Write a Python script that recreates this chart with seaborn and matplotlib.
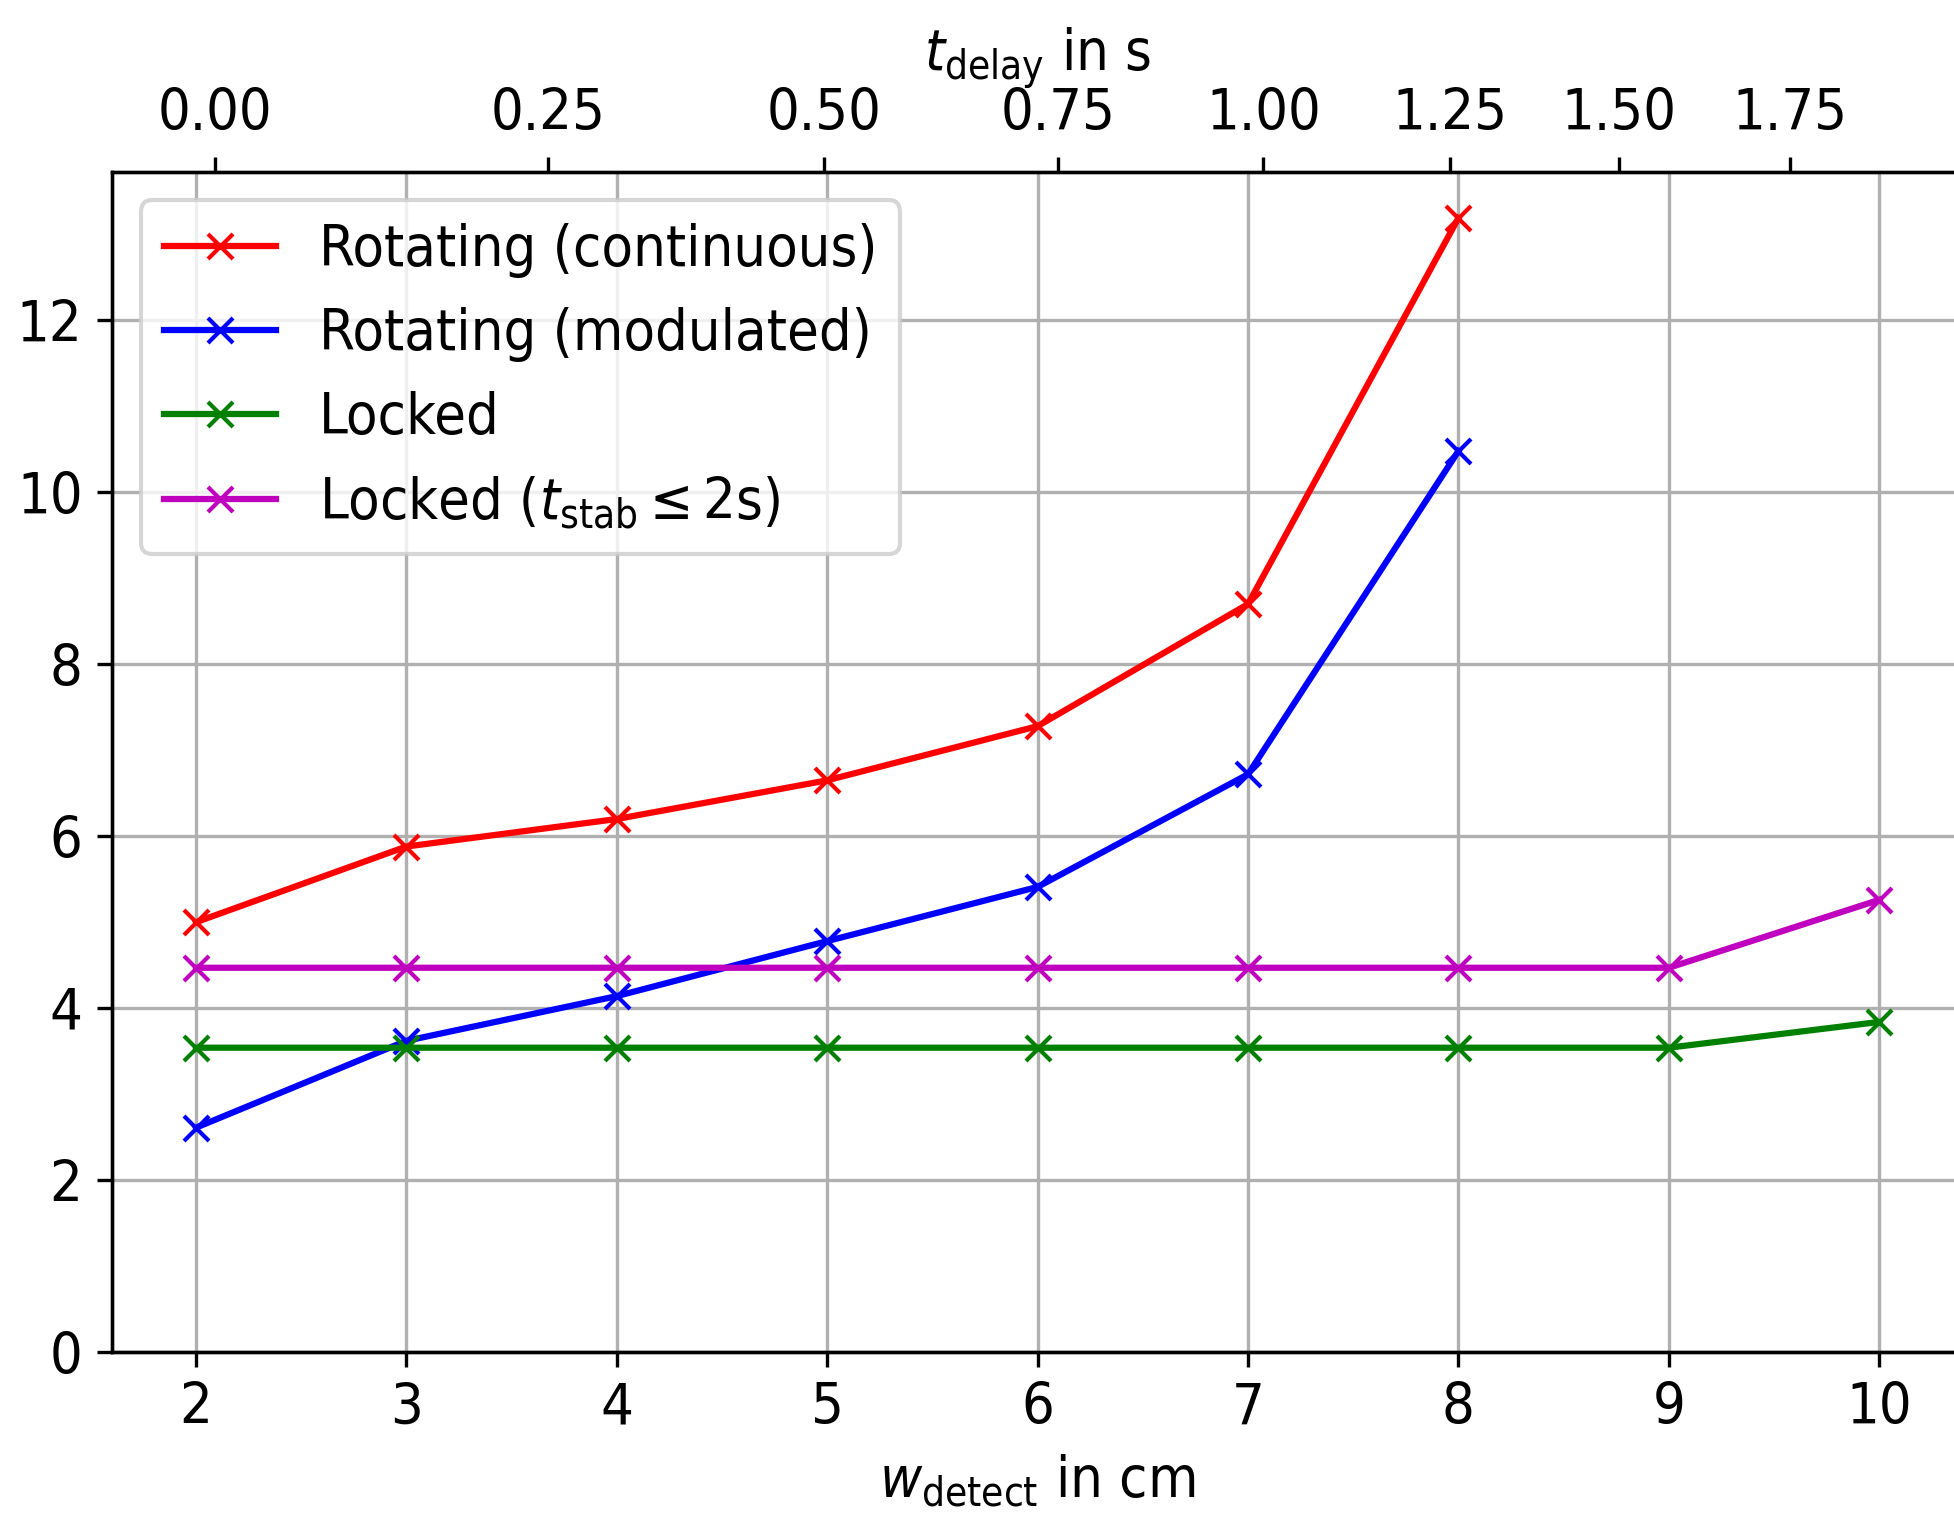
import numpy as np
import pandas as pd
import matplotlib
matplotlib.use("Agg")
import matplotlib.pyplot as plt
import seaborn as sns

# ---- data ----
w_detect = [2, 3, 4, 5, 6, 7, 8, 9, 10]
rot_cont = [5.00, 5.88, 6.20, 6.65, 7.28, 8.70, 13.19]
rot_mod = [2.61, 3.62, 4.14, 4.78, 5.41, 6.72, 10.48]
locked = [3.54, 3.54, 3.54, 3.54, 3.54, 3.54, 3.54, 3.54, 3.84]
locked_stab = [4.47, 4.47, 4.47, 4.47, 4.47, 4.47, 4.47, 4.47, 5.26]

series_names = ["Rotating (continuous)", "Rotating (modulated)", "Locked",
                r"Locked ($t_\mathrm{stab} \leq 2$s)"]
series_colors = ["red", "blue", "g", "m"]

# top-axis (t_delay) tick labels and where they sit on the w_detect axis
t_delay_labels = ["0.00", "0.25", "0.50", "0.75", "1.00", "1.25", "1.50", "1.75"]
t_delay_pos = [2.089, 3.673, 4.985, 6.099, 7.073, 7.958, 8.765, 9.575]

y_ticks = [0, 2, 4, 6, 8, 10, 12]

rows = []
for name, vals in zip(series_names, [rot_cont, rot_mod, locked, locked_stab]):
    for xv, yv in zip(w_detect[:len(vals)], vals):
        rows.append({"w": xv, "val": yv, "series": name})
df = pd.DataFrame(rows)

plt.rcParams["font.size"] = 13.8
plt.rcParams["font.family"] = ["DejaVu Sans"]
plt.rcParams["font.stretch"] = "condensed"
plt.rcParams["mathtext.fontset"] = "custom"
plt.rcParams["mathtext.rm"] = "DejaVu Sans:stretch=condensed"
plt.rcParams["mathtext.it"] = "DejaVu Sans:italic:stretch=condensed"
plt.rcParams["mathtext.bf"] = "DejaVu Sans:bold:stretch=condensed"
plt.rcParams["mathtext.sf"] = "DejaVu Sans:stretch=condensed"

fig = plt.figure(figsize=(1954 / 300, 1519 / 300), dpi=300)
ax = fig.add_axes([0.0572, 0.1099, 0.9476, 0.7771])

for name, col in zip(series_names, series_colors):
    sub = df[df["series"] == name]
    sns.lineplot(data=sub, x="w", y="val", ax=ax, color=col, marker="x",
                 markersize=6, markeredgecolor=col, markeredgewidth=1.0,
                 linewidth=1.5, label=name, legend=False)

ax.set_xlim(1.6, 10.4)
ax.set_ylim(0, 13.73)
ax.set_xticks(w_detect)
ax.set_yticks(y_ticks)
ax.grid(True, color="#b0b0b0", linewidth=0.8)
ax.set_axisbelow(True)
ax.set_xlabel(r"$w_\mathrm{detect}$ in cm")
ax.set_ylabel("")
ax.legend(loc="upper left", handlelength=1.95, handletextpad=0.75)

ax2 = ax.twiny()
ax2.set_position(ax.get_position())
ax2.set_xlim(ax.get_xlim())
ax2.set_xticks(t_delay_pos)
ax2.set_xticklabels(t_delay_labels)
ax2.set_xlabel(r"$t_\mathrm{delay}$ in s")

fig.savefig("out.png", dpi=300)
